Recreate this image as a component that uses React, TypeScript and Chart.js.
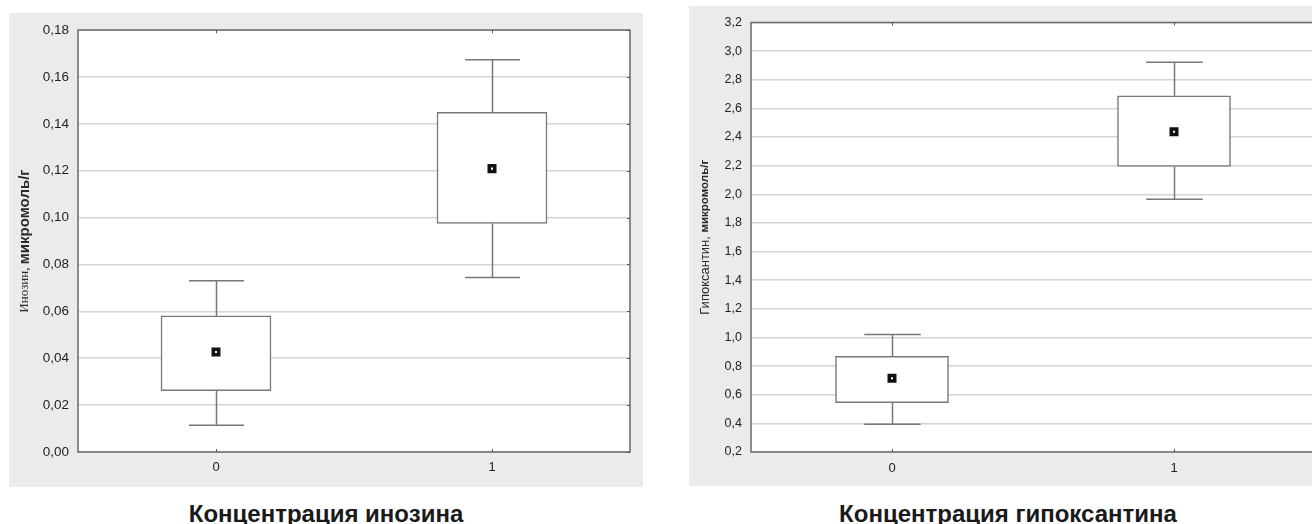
import React, { useEffect, useRef } from 'react';
import { Chart, registerables } from 'chart.js';
Chart.register(...registerables);

// ---------- data ----------
const groups = ['0', '1'];

const inosineMin = [0.0114, 0.0745];
const inosineQ1 = [0.0262, 0.0975];
const inosineMean = [0.0427, 0.1209];
const inosineQ3 = [0.0581, 0.1449];
const inosineMax = [0.0731, 0.1674];
const inosineTickValues = [0, 0.02, 0.04, 0.06, 0.08, 0.1, 0.12, 0.14, 0.16, 0.18];
const inosineTickLabels = ['0,00', '0,02', '0,04', '0,06', '0,08', '0,10', '0,12', '0,14', '0,16', '0,18'];

const hypoMin = [0.393, 1.966];
const hypoQ1 = [0.545, 2.195];
const hypoMean = [0.715, 2.437];
const hypoQ3 = [0.869, 2.688];
const hypoMax = [1.02, 2.922];
const hypoTickValues = [0.2, 0.4, 0.6, 0.8, 1.0, 1.2, 1.4, 1.6, 1.8, 2.0, 2.2, 2.4, 2.6, 2.8, 3.0, 3.2];
const hypoTickLabels = ['0,2', '0,4', '0,6', '0,8', '1,0', '1,2', '1,4', '1,6', '1,8', '2,0', '2,2', '2,4', '2,6', '2,8', '3,0', '3,2'];

const inosineTitle = 'Концентрация инозина';
const hypoTitle = 'Концентрация гипоксантина';

// ---------- plugins ----------
const plotBgPlugin = {
  id: 'plotBg',
  beforeDraw(chart: any) {
    const { ctx, chartArea: a } = chart;
    ctx.save();
    ctx.fillStyle = '#ffffff';
    ctx.fillRect(a.left, a.top, a.right - a.left, a.bottom - a.top);
    ctx.restore();
  },
};

const boxPlugin = {
  id: 'boxWhiskers',
  beforeDatasetsDraw(chart: any, _args: any, opts: any) {
    const { ctx, chartArea: a, scales } = chart;
    const x = scales.x;
    const y = scales.y;
    const line = (x1: number, y1: number, x2: number, y2: number) => {
      ctx.beginPath();
      ctx.moveTo(x1, y1);
      ctx.lineTo(x2, y2);
      ctx.stroke();
    };
    ctx.save();
    // frame
    ctx.strokeStyle = '#6a6a6a';
    ctx.lineWidth = 1.5;
    ctx.strokeRect(a.left, a.top, a.right - a.left, a.bottom - a.top);
    // small inward tick marks
    ctx.lineWidth = 1;
    ctx.strokeStyle = '#555';
    opts.min.forEach((_v: number, i: number) => {
      const px = Math.round(x.getPixelForValue(i)) + 0.5;
      line(px, a.bottom, px, a.bottom - 3);
      line(px, a.top, px, a.top + 3);
    });
    y.ticks.forEach((t: any) => {
      const py = Math.round(y.getPixelForValue(t.value)) + 0.5;
      line(a.right, py, a.right - 3, py);
    });
    // whiskers
    ctx.strokeStyle = '#777';
    ctx.lineWidth = 1.5;
    const half = opts.capHalf;
    opts.min.forEach((mn: number, i: number) => {
      const px = Math.round(x.getPixelForValue(i)) + 0.5;
      const yMin = y.getPixelForValue(mn);
      const yQ1 = y.getPixelForValue(opts.q1[i]);
      const yQ3 = y.getPixelForValue(opts.q3[i]);
      const yMax = y.getPixelForValue(opts.max[i]);
      line(px, yQ1, px, yMin);
      line(px - half, yMin, px + half, yMin);
      line(px, yQ3, px, yMax);
      line(px - half, yMax, px + half, yMax);
    });
    ctx.restore();
  },
};

const yTitlePlugin = {
  id: 'yTitle',
  afterDraw(chart: any, _args: any, opts: any) {
    const { ctx, chartArea: a } = chart;
    ctx.save();
    const cy = (a.top + a.bottom) / 2;
    ctx.translate(opts.x, cy);
    ctx.rotate(-Math.PI / 2);
    ctx.textBaseline = 'middle';
    ctx.textAlign = 'left';
    ctx.fillStyle = '#2a2a2a';
    let total = 0;
    const widths = opts.parts.map((p: any) => {
      ctx.font = p.font;
      const w = ctx.measureText(p.text).width;
      total += w;
      return w;
    });
    let cx = -total / 2;
    opts.parts.forEach((p: any, i: number) => {
      ctx.font = p.font;
      ctx.fillText(p.text, cx, 0);
      cx += widths[i];
    });
    ctx.restore();
  },
};

// ---------- panel ----------
type PanelProps = {
  width: number;
  height: number;
  yMin: number;
  yMax: number;
  tickValues: number[];
  tickLabels: string[];
  min: number[];
  q1: number[];
  mean: number[];
  q3: number[];
  max: number[];
  boxWidth: number;
  yAxisWidth: number;
  xAxisHeight: number;
  padTop: number;
  padRight: number;
  tickFont: number;
  xPad: number;
  titleX: number;
  titleParts: { text: string; font: string }[];
};

function BoxPanel(p: PanelProps) {
  const ref = useRef<HTMLCanvasElement | null>(null);
  useEffect(() => {
    if (!ref.current) return;
    const chart = new Chart(ref.current, {
      type: 'bar',
      data: {
        labels: groups,
        datasets: [
          {
            type: 'line',
            label: 'mean',
            data: p.mean,
            showLine: false,
            pointStyle: 'rect',
            pointRadius: 3.9,
            pointBorderWidth: 3.5,
            pointBorderColor: '#111',
            pointBackgroundColor: '#fff',
            order: 0,
          } as any,
          {
            type: 'bar',
            label: 'box',
            data: groups.map((_g, i) => [p.q1[i], p.q3[i]]),
            barThickness: p.boxWidth,
            backgroundColor: '#fff',
            borderColor: '#777',
            borderWidth: 1.5,
            borderSkipped: false,
            order: 1,
          } as any,
        ],
      },
      options: {
        animation: false,
        responsive: false,
        devicePixelRatio: 1,
        layout: { padding: { left: 0, top: p.padTop, right: p.padRight, bottom: 0 } },
        plugins: {
          legend: { display: false },
          tooltip: { enabled: false },
          boxWhiskers: { min: p.min, q1: p.q1, q3: p.q3, max: p.max, capHalf: p.boxWidth / 4 },
          yTitle: { x: p.titleX, parts: p.titleParts },
        } as any,
        scales: {
          x: {
            type: 'category',
            offset: true,
            grid: { display: false, drawTicks: false },
            border: { display: false },
            ticks: {
              color: '#222',
              font: { family: 'Liberation Sans', size: 13 },
              padding: p.xPad,
            },
            afterFit: (s: any) => {
              s.height = p.xAxisHeight;
            },
          },
          y: {
            type: 'linear',
            min: p.yMin,
            max: p.yMax,
            afterBuildTicks: (s: any) => {
              s.ticks = p.tickValues.map((v) => ({ value: v }));
            },
            ticks: {
              color: '#222',
              font: { family: 'Liberation Sans', size: p.tickFont },
              padding: 9,
              callback: (_v: any, i: number) => p.tickLabels[i],
            },
            grid: { color: '#d4d4d4', lineWidth: 1.5, drawTicks: false },
            border: { display: false },
            afterFit: (s: any) => {
              s.width = p.yAxisWidth;
            },
          },
        },
      } as any,
      plugins: [plotBgPlugin, boxPlugin, yTitlePlugin],
    });
    return () => chart.destroy();
  }, []);
  return <canvas ref={ref} width={p.width} height={p.height} style={{ display: 'block' }} />;
}

const titleStyle = (center: number): React.CSSProperties => ({
  position: 'absolute',
  left: center - 250,
  width: 500,
  top: 502,
  textAlign: 'center',
  fontFamily: "'Liberation Sans', Arial, sans-serif",
  fontWeight: 'bold',
  fontSize: 24,
  lineHeight: '24px',
  color: '#1a1a1a',
  whiteSpace: 'nowrap',
});

export default function App() {
  return (
    <div
      style={{
        position: 'absolute',
        left: 0,
        top: 0,
        width: 1312,
        height: 524,
        overflow: 'hidden',
        background: '#fff',
      }}
    >
      <div style={{ position: 'absolute', left: 9, top: 13, width: 634, height: 474, background: '#ebebeb' }}>
        <BoxPanel
          width={634}
          height={474}
          yMin={0}
          yMax={0.18}
          tickValues={inosineTickValues}
          tickLabels={inosineTickLabels}
          min={inosineMin}
          q1={inosineQ1}
          mean={inosineMean}
          q3={inosineQ3}
          max={inosineMax}
          boxWidth={110}
          yAxisWidth={69}
          xAxisHeight={35}
          padTop={13}
          padRight={13}
          tickFont={13.5}
          xPad={8}
          titleX={16}
          titleParts={[
            { text: 'Инозин, ', font: "13px 'Liberation Serif'" },
            { text: 'микромоль/г', font: "bold 15px 'Liberation Sans'" },
          ]}
        />
      </div>
      <div style={{ position: 'absolute', left: 689, top: 6, width: 640, height: 480, background: '#ebebeb' }}>
        <BoxPanel
          width={640}
          height={480}
          yMin={0.2}
          yMax={3.2}
          tickValues={hypoTickValues}
          tickLabels={hypoTickLabels}
          min={hypoMin}
          q1={hypoQ1}
          mean={hypoMean}
          q3={hypoQ3}
          max={hypoMax}
          boxWidth={113}
          yAxisWidth={62}
          xAxisHeight={34}
          padTop={11}
          padRight={14}
          tickFont={12.5}
          xPad={9}
          titleX={16}
          titleParts={[
            { text: 'Гипоксантин, ', font: "13px 'Liberation Sans'" },
            { text: 'микромоль/г', font: "bold 11.5px 'Liberation Sans'" },
          ]}
        />
      </div>
      <div style={titleStyle(326)}>{inosineTitle}</div>
      <div style={titleStyle(1008)}>{hypoTitle}</div>
    </div>
  );
}
